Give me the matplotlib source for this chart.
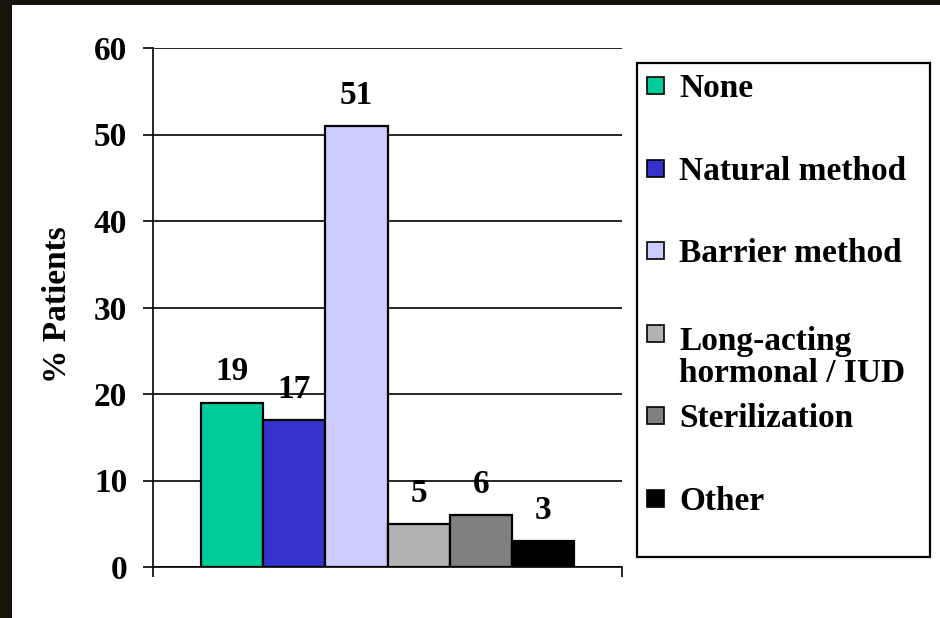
import matplotlib.pyplot as plt
from matplotlib.patches import Rectangle

plt.rcParams['font.family'] = ['Liberation Serif', 'DejaVu Serif']
plt.rcParams['font.weight'] = 'bold'

# metodos anticonceptivos y porcentaje de pacientes
metodos = ['None', 'Natural method', 'Barrier method',
           'Long-acting\nhormonal / IUD', 'Sterilization', 'Other']
porcentajes = [19, 17, 51, 5, 6, 3]
colores = ['#00CC99', '#3333CC', '#CCCCFF', '#B2B2B2', '#808080', '#000000']
marcas_y = [0, 10, 20, 30, 40, 50, 60]

W, H = 940, 618


def px(x, y):
    """Convierte pixeles (origen arriba a la izquierda) a fraccion de figura."""
    return x / W, 1 - y / H


fig = plt.figure(figsize=(W / 100, H / 100), dpi=100, facecolor='#16140a')
# panel blanco sobre el fondo oscuro
fig.add_artist(Rectangle(px(12, 618), 1 - 12 / W, (618 - 5) / H,
                         transform=fig.transFigure, facecolor='white',
                         edgecolor='none', zorder=0))

x0, y0 = px(153, 567)
x1, y1 = px(622, 48)
ax = fig.add_axes([x0, y0, x1 - x0, y1 - y0])
ax.set_facecolor('none')

pos = list(range(len(porcentajes)))
barras = ax.bar(pos, porcentajes, width=1.0, color=colores,
                edgecolor='black', linewidth=1.6, zorder=3)
for b, v in zip(barras, porcentajes):
    ax.annotate(str(v), (b.get_x() + b.get_width() / 2, v),
                xytext=(0, 16), textcoords='offset points',
                ha='center', va='baseline', fontsize=24, fontweight='bold')

borde = 48 / 62.2
ax.set_xlim(-0.5 - borde, len(porcentajes) - 0.5 + borde)
ax.set_ylim(0, 60)
ax.set_yticks(marcas_y)
ax.set_yticklabels([str(m) for m in marcas_y], fontsize=24, fontweight='bold')
ax.set_xticks([ax.get_xlim()[0], ax.get_xlim()[1]])
ax.set_xticklabels([])
ax.tick_params(axis='both', length=7.5, width=1.2, direction='out', pad=11)
ax.grid(axis='y', color='black', linewidth=1.2, zorder=1)
ax.set_axisbelow(True)

for spine in ['right', 'top']:
    ax.spines[spine].set_color('none')
for spine in ['left', 'bottom']:
    ax.spines[spine].set_linewidth(1.2)

fig.text(*px(57, 305), '% Patients', rotation=90, ha='center', va='center',
         fontsize=24, fontweight='bold')

# leyenda dibujada a mano dentro de un recuadro
lx, ly = px(637, 557)
fig.add_artist(Rectangle((lx, ly), (930 - 637) / W, (557 - 63) / H,
                         transform=fig.transFigure, facecolor='white',
                         edgecolor='black', linewidth=1.6, zorder=2))
for i, (nombre, c) in enumerate(zip(metodos, colores)):
    base = 97 + 82.6 * i
    fig.add_artist(Rectangle(px(647, base - 3), 17 / W, 17 / H,
                             transform=fig.transFigure, facecolor=c,
                             edgecolor='black', linewidth=1.2, zorder=3))
    # la linea base se toma de la ultima linea del texto
    fig.text(*px(679, base + 37 * nombre.count('\n')), nombre, ha='left',
             va='baseline', fontsize=24, fontweight='bold',
             linespacing=1.05, zorder=3)

fig.savefig('out.png', dpi=100, facecolor=fig.get_facecolor())
